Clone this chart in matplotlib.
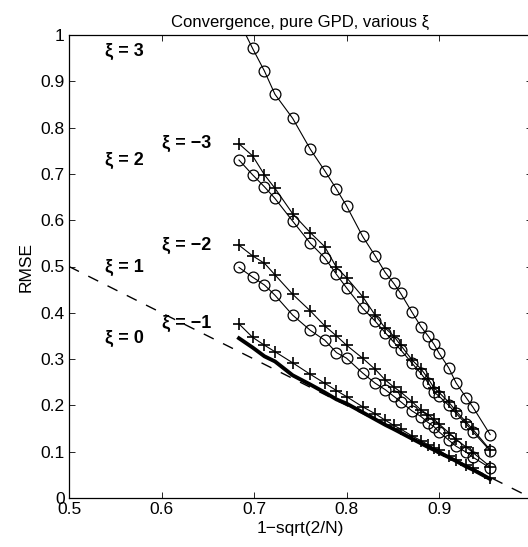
import numpy as np
import matplotlib
matplotlib.use("Agg")
import matplotlib.pyplot as plt

# sample sizes, x axis is 1-sqrt(2/N)
N = [20, 22, 24, 26, 30, 35, 40, 45, 50, 60, 70, 80, 90, 100,
     120, 140, 160, 180, 200, 250, 300, 400, 500, 1000]

rmse_xi3 = [1.03, 0.971, 0.922, 0.872, 0.820, 0.753, 0.707, 0.667, 0.631, 0.565, 0.523, 0.487,
            0.464, 0.442, 0.401, 0.370, 0.350, 0.332, 0.313, 0.281, 0.249, 0.217, 0.196, 0.137]
rmse_xim3 = [0.765, 0.739, 0.698, 0.669, 0.614, 0.573, 0.543, 0.498, 0.476, 0.435, 0.395, 0.367,
             0.350, 0.330, 0.298, 0.279, 0.258, 0.238, 0.228, 0.207, 0.188, 0.164, 0.148, 0.104]
rmse_xi2 = [0.730, 0.698, 0.672, 0.647, 0.598, 0.550, 0.519, 0.483, 0.454, 0.410, 0.382, 0.357,
            0.337, 0.320, 0.291, 0.269, 0.249, 0.229, 0.220, 0.200, 0.183, 0.160, 0.143, 0.102]
rmse_xim2 = [0.546, 0.523, 0.507, 0.482, 0.440, 0.404, 0.372, 0.350, 0.330, 0.302, 0.278, 0.255,
             0.240, 0.229, 0.208, 0.190, 0.180, 0.170, 0.160, 0.141, 0.127, 0.110, 0.098, 0.068]
rmse_xi1 = [0.498, 0.477, 0.460, 0.438, 0.395, 0.362, 0.341, 0.314, 0.302, 0.270, 0.248, 0.234,
            0.220, 0.208, 0.188, 0.176, 0.163, 0.154, 0.143, 0.125, 0.112, 0.099, 0.088, 0.065]
rmse_xim1 = [0.376, 0.347, 0.330, 0.316, 0.292, 0.267, 0.248, 0.232, 0.219, 0.197, 0.182, 0.168,
             0.157, 0.149, 0.134, 0.124, 0.115, 0.108, 0.103, 0.090, 0.081, 0.071, 0.064, 0.043]
rmse_xi0 = [0.345, 0.325, 0.306, 0.295, 0.265, 0.245, 0.228, 0.213, 0.204, 0.185, 0.170, 0.158,
            0.149, 0.141, 0.128, 0.118, 0.110, 0.104, 0.098, 0.088, 0.080, 0.068, 0.061, 0.041]

# reference line y = 1 - x
ref_x = [0.5, 1.0]
ref_y = [0.5, 0.0]

XTICKS = [0.5, 0.6, 0.7, 0.8, 0.9, 1.0]
XTICKLABELS = ["0.5", "0.6", "0.7", "0.8", "0.9", ""]  # "1" falls off the cropped figure
YTICKS = [0, 0.1, 0.2, 0.3, 0.4, 0.5, 0.6, 0.7, 0.8, 0.9, 1.0]
YTICKLABELS = ["0", "0.1", "0.2", "0.3", "0.4", "0.5", "0.6", "0.7", "0.8", "0.9", "1"]

plt.rcParams['font.family'] = ['Liberation Sans', 'DejaVu Sans']
plt.rcParams['font.size'] = 12.5


def plot_convergence():
    x = 1 - np.sqrt(2.0 / np.array(N))

    fig = plt.figure(figsize=(5.28, 5.47), dpi=100)
    ax = fig.add_axes([69 / 528, 49 / 547, 462.5 / 528, 463 / 547])

    ax.plot(ref_x, ref_y, color="black", lw=1.0, dashes=(8, 7.5))

    circ = dict(color="black", lw=0.8, marker="o", ms=7.8, mfc="none", mew=0.9)
    plus = dict(color="black", lw=0.8, marker="+", ms=8.5, mew=1.2)
    ax.plot(x, rmse_xi3, **circ)
    ax.plot(x, rmse_xi2, **circ)
    ax.plot(x, rmse_xi1, **circ)
    ax.plot(x, rmse_xim3, **plus)
    ax.plot(x, rmse_xim2, **plus)
    ax.plot(x, rmse_xim1, **plus)
    ax.plot(x, rmse_xi0, color="black", lw=2.8)

    # series labels, next to the first point of each curve
    lab = dict(fontweight="bold", fontsize=13, va="center", ha="left")
    ax.text(0.539, 0.965, "\u03be = 3", **lab)
    ax.text(0.539, rmse_xi2[0], "\u03be = 2", **lab)
    ax.text(0.539, rmse_xi1[0], "\u03be = 1", **lab)
    ax.text(0.539, rmse_xi0[0], "\u03be = 0", **lab)
    ax.text(0.600, rmse_xim3[0], "\u03be = \u22123", **lab)
    ax.text(0.600, rmse_xim2[0], "\u03be = \u22122", **lab)
    ax.text(0.600, rmse_xim1[0], "\u03be = \u22121", **lab)

    ax.set_xlim(0.5, 1.0)
    ax.set_ylim(0, 1)
    ax.set_xticks(XTICKS)
    ax.set_xticklabels(XTICKLABELS)
    ax.set_yticks(YTICKS)
    ax.set_yticklabels(YTICKLABELS)
    ax.tick_params(direction="in", length=4, width=0.6, top=True, right=True, pad=3)
    for s in ax.spines.values():
        s.set_linewidth(0.9)

    ax.set_xlabel("1\u2212sqrt(2/N)", labelpad=3)
    ax.set_ylabel("RMSE", labelpad=5)
    ax.set_title("Convergence, pure GPD, various \u03be", fontsize=12, pad=6)

    fig.savefig("out.png", dpi=100)


if __name__ == '__main__':
    plot_convergence()
